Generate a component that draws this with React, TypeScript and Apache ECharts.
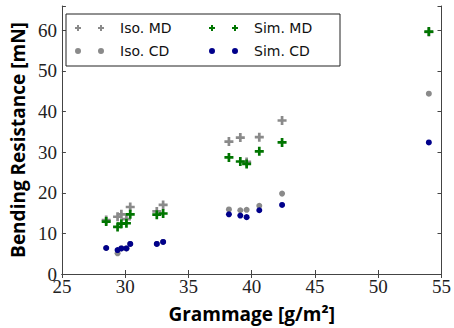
import React, { useEffect, useRef } from "react";
import * as echarts from "echarts";

const grammage = [28.5, 29.4, 29.7, 30.1, 30.4, 32.5, 33.0, 38.2, 39.1, 39.6, 40.6, 42.4, 54.0];
const isoMD = [13.3, 14.1, 14.7, 13.5, 16.5, 15.4, 17.0, 32.6, 33.6, 27.6, 33.7, 37.8, 59.6];
const isoCD = [6.4, 5.1, 6.3, 6.3, 7.4, 7.4, 7.9, 15.9, 15.7, 15.8, 16.8, 19.8, 44.4];
const simMD = [12.9, 11.6, 12.4, 12.5, 14.7, 14.6, 14.9, 28.7, 27.7, 27.1, 30.2, 32.4, 59.7];
const simCD = [6.4, 5.9, 6.3, 6.3, 7.4, 7.4, 7.9, 14.7, 14.4, 14.0, 15.7, 17.0, 32.4];
const seriesNames = ["Iso. MD", "Sim. MD", "Iso. CD", "Sim. CD"];

const PLUS = "path://M3.5,0 h3 v3.5 h3.5 v3 h-3.5 v3.5 h-3 v-3.5 h-3.5 v-3 h3.5 z";
const TWO_PLUS =
  "path://M2,0 h2 v2 h2 v2 h-2 v2 h-2 v-2 h-2 v-2 h2 z M25,0 h2 v2 h2 v2 h-2 v2 h-2 v-2 h-2 v-2 h2 z";
const TWO_DOTS =
  "path://M0,3 a3,3 0 1,0 6,0 a3,3 0 1,0 -6,0 z M23,3 a3,3 0 1,0 6,0 a3,3 0 1,0 -6,0 z";

const GRAY = "#8a8a8a";
const GREEN = "#007500";
const BLUE = "#00008b";

const pairs = (ys: number[]) => grammage.map((x, i) => [x, ys[i]]);

export default function App() {
  const ref = useRef<HTMLDivElement>(null);
  useEffect(() => {
    if (!ref.current) return;
    const chart = echarts.init(ref.current, null, { renderer: "svg" });
    const tickFont = { fontFamily: "Liberation Serif", fontSize: 19, color: "#222" };
    const axisLine = { show: true, lineStyle: { color: "#444", width: 1 } };
    const axisTick = { show: true, inside: true, length: 4, lineStyle: { color: "#444" } };
    chart.setOption({
      animation: false,
      backgroundColor: "#fff",
      grid: { left: 57, right: 11, top: 6, bottom: 51 },
      legend: {
        left: 66,
        top: 14,
        width: 262,
        orient: "horizontal",
        itemWidth: 29,
        itemHeight: 6,
        itemGap: 9,
        padding: [7, 6, 8, 9],
        borderColor: "#222",
        borderWidth: 1,
        borderRadius: 0,
        textStyle: {
          fontFamily: "DejaVu Sans",
          fontSize: 14,
          color: "#111",
          lineHeight: 14,
          width: 80,
          padding: [0, 0, 0, 11],
        },
        data: [
          { name: "Iso. MD", icon: TWO_PLUS },
          { name: "Sim. MD", icon: TWO_PLUS },
          { name: "Iso. CD", icon: TWO_DOTS },
          { name: "Sim. CD", icon: TWO_DOTS },
        ],
      },
      xAxis: [
        {
          type: "value",
          min: 25,
          max: 55,
          interval: 5,
          name: "Grammage [g/m²]",
          nameLocation: "middle",
          nameGap: 30,
          nameTextStyle: { fontFamily: "Open Sans", fontWeight: "bold", fontSize: 19, color: "#000" },
          axisLine,
          axisTick,
          splitLine: { show: false },
          axisLabel: { ...tickFont, margin: 3 },
        },
        {
          type: "value",
          position: "top",
          min: 25,
          max: 55,
          interval: 5,
          axisLine,
          axisTick,
          splitLine: { show: false },
          axisLabel: { show: false },
        },
      ],
      yAxis: [
        {
          type: "value",
          min: 0,
          max: 66,
          interval: 10,
          name: "Bending Resistance [mN]",
          nameLocation: "middle",
          nameGap: 30,
          nameTextStyle: { fontFamily: "Open Sans", fontWeight: "bold", fontSize: 19, color: "#000" },
          axisLine,
          axisTick,
          splitLine: { show: false },
          axisLabel: {
            ...tickFont,
            margin: 5,
            formatter: (v: number) => (v % 10 === 0 ? String(v) : ""),
          },
        },
        {
          type: "value",
          position: "right",
          min: 0,
          max: 66,
          interval: 10,
          axisLine,
          axisTick,
          splitLine: { show: false },
          axisLabel: { show: false },
        },
      ],
      series: [
        { name: seriesNames[0], type: "scatter", symbol: PLUS, symbolSize: 9, itemStyle: { color: GRAY, opacity: 1 }, data: pairs(isoMD), z: 2 },
        { name: seriesNames[2], type: "scatter", symbol: "circle", symbolSize: 6, itemStyle: { color: GRAY, opacity: 1 }, data: pairs(isoCD), z: 2 },
        { name: seriesNames[1], type: "scatter", symbol: PLUS, symbolSize: 9, itemStyle: { color: GREEN, opacity: 1 }, data: pairs(simMD), z: 3 },
        { name: seriesNames[3], type: "scatter", symbol: "circle", symbolSize: 6, itemStyle: { color: BLUE, opacity: 1 }, data: pairs(simCD), z: 3 },
      ],
    });
    return () => chart.dispose();
  }, []);
  return (
    <div
      ref={ref}
      style={{ position: "fixed", left: 0, top: 0, width: 454, height: 328, background: "#fff" }}
    />
  );
}
